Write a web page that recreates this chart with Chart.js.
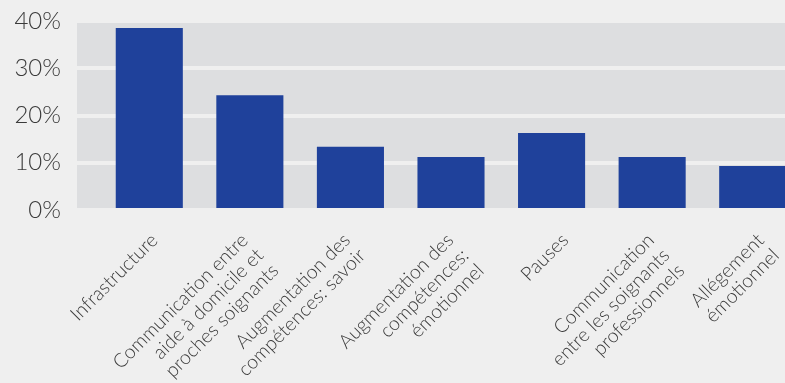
<!DOCTYPE html>
<html>
<head>
<meta charset="utf-8">
<script src="https://cdn.jsdelivr.net/npm/chart.js@4.4.0/dist/chart.umd.min.js"></script>
<style>
  html, body { margin: 0; padding: 0; background: #efefef; overflow: hidden; }
  #wrap { width: 785px; height: 383px; overflow: hidden; }
</style>
</head>
<body>
<div id="wrap"><canvas id="myChart" width="803" height="383"></canvas></div>
<script>
// category labels, already split into lines as in the picture
var categories = [
  ["Infrastructure"],
  ["Communication entre", "aide à domicile et", "proches soignants"],
  ["Augmentation des", "compétences: savoir"],
  ["Augmentation des", "compétences:", "émotionnel"],
  ["Pauses"],
  ["Communication", "entre les soignants", "professionnels"],
  ["Allégement", "émotionnel"]
];
var values = [38.5, 24.3, 13.4, 11.2, 16.3, 11.2, 9.3];
var yTicks = [0, 10, 20, 30, 40];

var labelFont = "300 19.5px Lato";
var textColor = "#3a3a3a";
var bgColor = "#efefef";

// grey plot panel behind the grid
var panelPlugin = {
  id: "panel",
  beforeDraw: function (chart) {
    var ctx = chart.ctx;
    var a = chart.chartArea;
    ctx.save();
    ctx.fillStyle = bgColor;
    ctx.fillRect(0, 0, chart.width, chart.height);
    ctx.fillStyle = "#dddee0";
    ctx.fillRect(a.left - 22, a.top, chart.width - (a.left - 22), a.bottom - a.top);
    ctx.restore();
  }
};

// rotated multi-line category labels (lines right-aligned),
// longer blocks sit a little further left
var labelPlugin = {
  id: "rotLabels",
  afterDraw: function (chart) {
    var ctx = chart.ctx;
    var xs = chart.scales.x;
    var a = chart.chartArea;
    var lh = 21.5;
    ctx.save();
    ctx.font = labelFont;
    ctx.fillStyle = textColor;
    ctx.textAlign = "right";
    ctx.textBaseline = "middle";
    categories.forEach(function (lines, i) {
      var c = xs.getPixelForTick(i);
      var wMax = Math.max.apply(null, lines.map(function (t) { return ctx.measureText(t).width; }));
      var shift = -0.15 * (wMax - 128);
      ctx.save();
      ctx.translate(c + 3 + shift, a.bottom + 27);
      ctx.rotate(-Math.PI / 4);
      lines.forEach(function (t, j) {
        ctx.fillText(t, 0, j * lh);
      });
      ctx.restore();
    });
    ctx.restore();
  }
};

var ctx = document.getElementById("myChart");

new Chart(ctx, {
  type: "bar",
  data: {
    labels: categories,
    datasets: [
      {
        data: values,
        backgroundColor: "#1f419b",
        borderWidth: 0,
        barPercentage: 0.667,
        categoryPercentage: 1
      }
    ]
  },
  options: {
    responsive: false,
    animation: false,
    events: [],
    layout: { padding: { top: 21, left: 0, right: 0, bottom: 0 } },
    plugins: {
      legend: { display: false },
      tooltip: { enabled: false }
    },
    scales: {
      x: {
        grid: { display: false },
        border: { display: false },
        ticks: { display: false },
        afterFit: function (scale) {
          scale.height = 173;
        }
      },
      y: {
        min: 0,
        max: 40,
        afterBuildTicks: function (scale) {
          scale.ticks = yTicks.map(function (v) { return { value: v }; });
        },
        grid: {
          color: bgColor,
          lineWidth: 4,
          drawTicks: true,
          tickLength: 22,
          tickColor: bgColor,
          tickWidth: 4
        },
        border: { display: false },
        ticks: {
          padding: 16,
          color: textColor,
          font: { family: "Lato", size: 24, weight: 300 },
          callback: function (v) { return v + "%"; }
        },
        afterFit: function (scale) {
          scale.width = 99;
          scale.paddingTop = 0;
          scale.paddingBottom = 0;
        }
      }
    }
  },
  plugins: [panelPlugin, labelPlugin]
});
</script>
</body>
</html>
